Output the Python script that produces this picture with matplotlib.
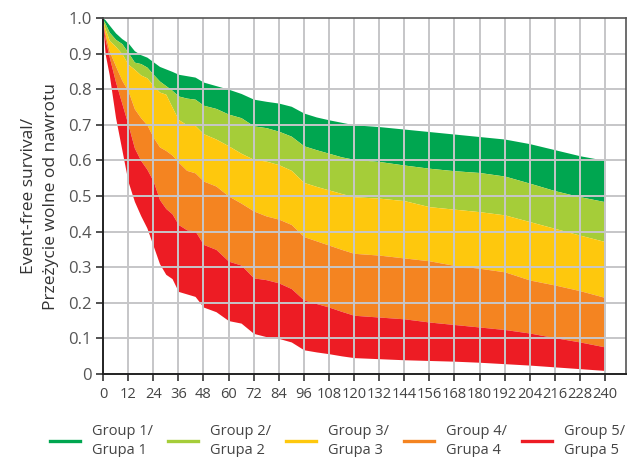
import numpy as np
import matplotlib
matplotlib.use("Agg")
import matplotlib.pyplot as plt
from matplotlib.lines import Line2D

plt.rcParams['font.family'] = ['Open Sans', 'DejaVu Sans']

# follow-up time (months) and band boundaries
months = [0, 1, 3, 6, 9, 12, 15, 18, 21, 24, 27, 30, 33, 36, 40, 44, 48, 54, 60,
          66, 72, 78, 84, 90, 96, 102, 108, 114, 120, 132, 144, 156, 168, 180,
          192, 204, 216, 228, 240]

group1_top = [1.0, 0.995, 0.98, 0.958, 0.942, 0.93, 0.908, 0.897, 0.89, 0.877,
              0.864, 0.857, 0.85, 0.842, 0.838, 0.834, 0.82, 0.81, 0.8, 0.788,
              0.772, 0.766, 0.761, 0.752, 0.733, 0.722, 0.714, 0.707, 0.7, 0.695,
              0.688, 0.681, 0.674, 0.667, 0.66, 0.647, 0.63, 0.613, 0.6]
group2_top = [0.995, 0.985, 0.96, 0.94, 0.928, 0.903, 0.876, 0.872, 0.862, 0.842,
              0.823, 0.81, 0.797, 0.781, 0.775, 0.772, 0.755, 0.746, 0.73, 0.72,
              0.697, 0.692, 0.682, 0.668, 0.641, 0.63, 0.62, 0.61, 0.603, 0.597,
              0.587, 0.578, 0.571, 0.566, 0.556, 0.536, 0.515, 0.498, 0.484]
group3_top = [0.99, 0.97, 0.937, 0.92, 0.9, 0.87, 0.856, 0.84, 0.832, 0.81,
              0.792, 0.786, 0.75, 0.715, 0.7, 0.698, 0.675, 0.66, 0.641, 0.62,
              0.603, 0.598, 0.588, 0.572, 0.538, 0.527, 0.517, 0.507, 0.498, 0.494,
              0.487, 0.47, 0.463, 0.456, 0.447, 0.428, 0.409, 0.39, 0.372]
group4_top = [0.985, 0.955, 0.907, 0.865, 0.825, 0.795, 0.745, 0.72, 0.7, 0.665,
              0.638, 0.628, 0.615, 0.595, 0.572, 0.565, 0.542, 0.528, 0.5, 0.48,
              0.458, 0.444, 0.435, 0.42, 0.386, 0.374, 0.362, 0.35, 0.339, 0.334,
              0.326, 0.318, 0.305, 0.297, 0.287, 0.264, 0.25, 0.234, 0.215]
group5_top = [0.98, 0.94, 0.89, 0.82, 0.76, 0.7, 0.635, 0.6, 0.575, 0.542,
              0.49, 0.465, 0.45, 0.42, 0.405, 0.402, 0.364, 0.35, 0.317, 0.306,
              0.27, 0.265, 0.256, 0.24, 0.208, 0.198, 0.188, 0.176, 0.165, 0.16,
              0.155, 0.146, 0.139, 0.132, 0.125, 0.115, 0.102, 0.09, 0.076]
group5_bottom = [0.975, 0.9, 0.84, 0.72, 0.63, 0.54, 0.485, 0.445, 0.41, 0.36,
                 0.31, 0.28, 0.268, 0.232, 0.225, 0.218, 0.188, 0.175, 0.15, 0.143,
                 0.114, 0.105, 0.1, 0.09, 0.068, 0.062, 0.057, 0.051, 0.046, 0.043,
                 0.04, 0.038, 0.036, 0.033, 0.029, 0.025, 0.02, 0.015, 0.01]

labels = ["Group 1/\nGrupa 1", "Group 2/\nGrupa 2", "Group 3/\nGrupa 3",
          "Group 4/\nGrupa 4", "Group 5/\nGrupa 5"]
colors = ["#00a650", "#a5cd39", "#fec80d", "#f48421", "#ed1c24"]

x_ticks = list(range(0, 241, 12))
y_ticks = [0, 0.1, 0.2, 0.3, 0.4, 0.5, 0.6, 0.7, 0.8, 0.9, 1.0]
y_ticklabels = ["0", "0.1", "0.2", "0.3", "0.4", "0.5", "0.6", "0.7", "0.8", "0.9", "1.0"]

fig = plt.figure(figsize=(6.3, 4.57), dpi=100)
ax = fig.add_axes([103/630, 1 - 374/457, 523/630, 356/457])

bounds = [group1_top, group2_top, group3_top, group4_top, group5_top, group5_bottom]
for i in range(5):
    ax.fill_between(months, bounds[i + 1], bounds[i], color=colors[i], lw=0, zorder=1)

ax.set_xlim(0, 250)
ax.set_ylim(0, 1.0)
ax.set_xticks(x_ticks)
ax.set_yticks(y_ticks)
ax.set_yticklabels(y_ticklabels)

for x in x_ticks:
    ax.axvline(x, color="#c6c6c8", lw=1.4, zorder=2)
for y in y_ticks[1:-1]:
    ax.axhline(y, color="#c6c6c8", lw=1.4, zorder=2)

ax.tick_params(axis="x", direction="out", length=5, width=1.2, color="#333333",
               labelsize=10.5, labelcolor="#444444", pad=4)
ax.tick_params(axis="y", direction="out", length=5, width=1.2, color="#333333",
               labelsize=12, labelcolor="#555555", pad=3)
for s in ["left", "bottom"]:
    ax.spines[s].set_color("#222222")
    ax.spines[s].set_linewidth(1.4)
for s in ["top", "right"]:
    ax.spines[s].set_color("#555555")
    ax.spines[s].set_linewidth(1.2)
for s in ax.spines.values():
    s.set_zorder(3)

ax.set_ylabel("Event-free survival/\nPrzeżycie wolne od nawrotu", fontsize=12.5,
              color="#333333", labelpad=7, linespacing=1.45)

# legend
for i in range(5):
    x0 = (50 + 118 * i) / 630
    y0 = 1 - 441 / 457
    fig.add_artist(Line2D([x0, x0 + 30/630], [y0, y0], color=colors[i], lw=2.4,
                          transform=fig.transFigure))
    fig.text(x0 + 42/630, y0, labels[i], fontsize=10.5, color="#444444",
             va="center", ha="left", linespacing=1.45)

fig.savefig("out.png", dpi=100)
